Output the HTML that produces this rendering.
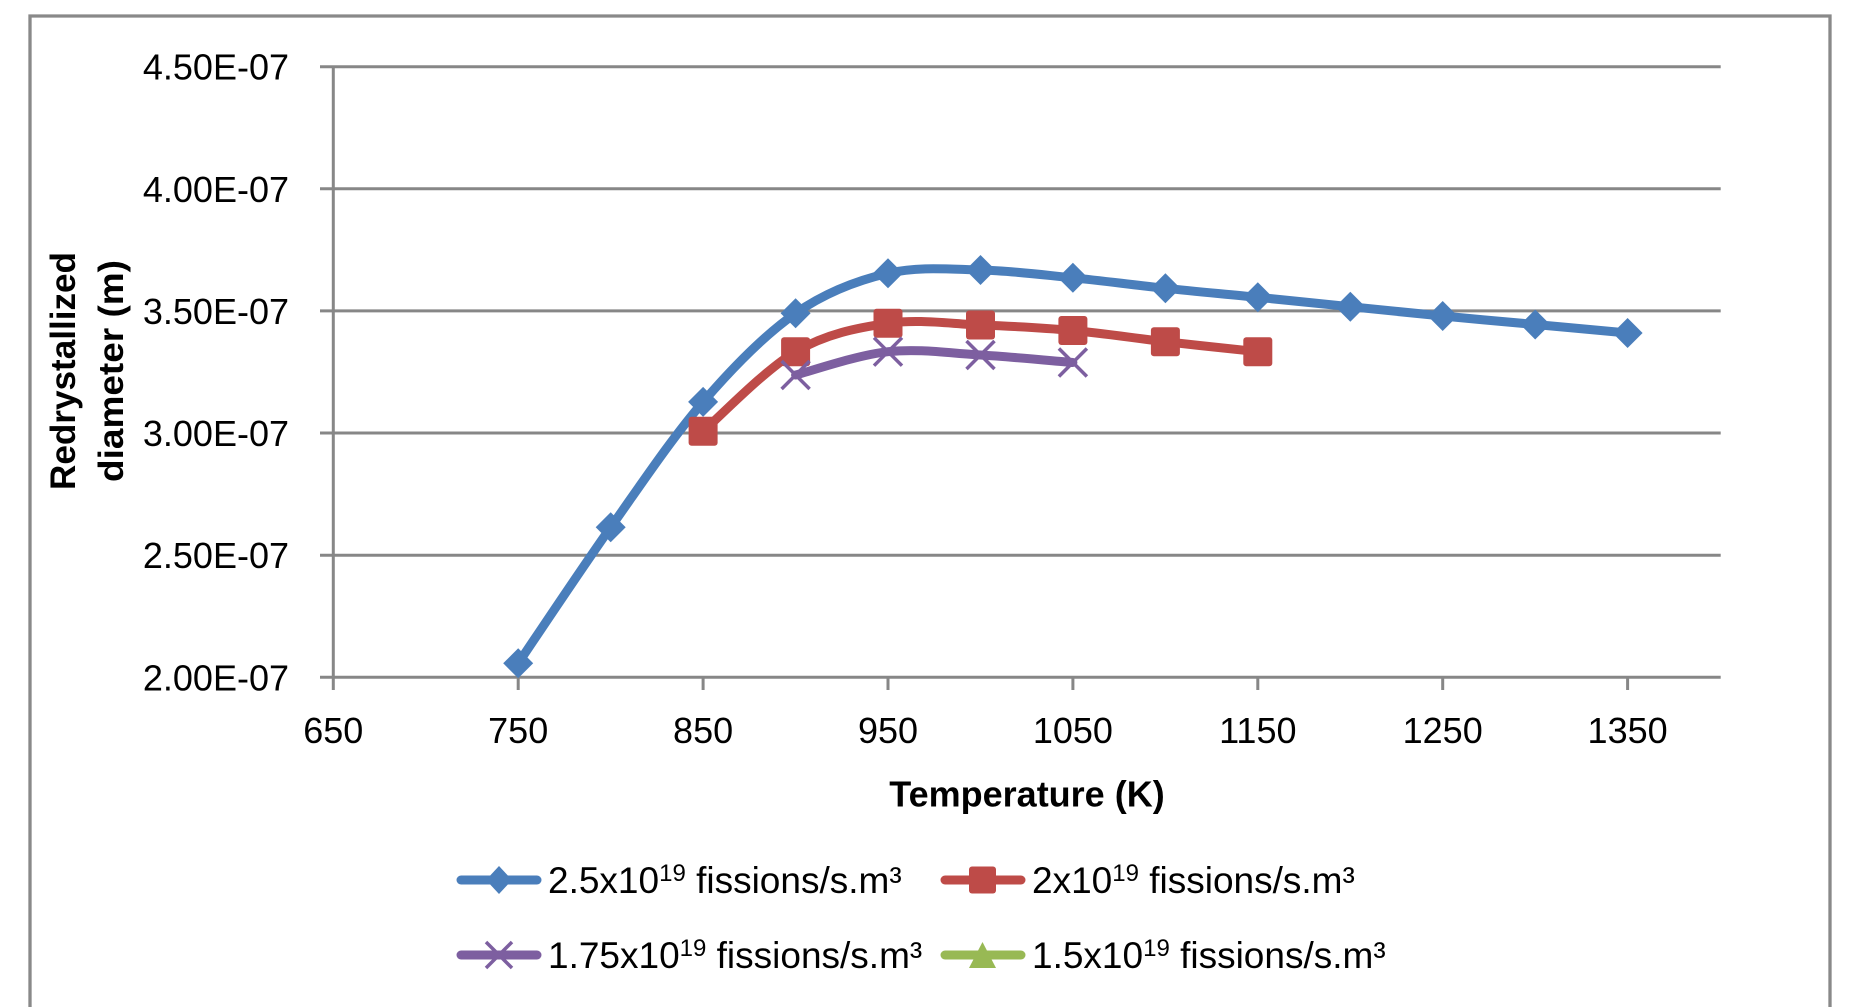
<!DOCTYPE html>
<html>
<head>
<meta charset="utf-8">
<style>
  html, body { margin: 0; padding: 0; background: #ffffff; }
  body { width: 1852px; height: 1007px; overflow: hidden; }
  svg { display: block; }
  text { font-family: "Liberation Sans", "DejaVu Sans", sans-serif; fill: #000; }
</style>
</head>
<body>
<svg width="1852" height="1007" viewBox="0 0 1852 1007" xmlns="http://www.w3.org/2000/svg">
  <rect x="0" y="0" width="1852" height="1007" fill="#ffffff"/>
  <!-- outer chart border (bottom edge is outside the frame) -->
  <path d="M30,1007 L30,16 L1830,16 L1830,1007" fill="none" stroke="#898989" stroke-width="3.3"/>

  <!-- gridlines -->
  <g stroke="#878787" stroke-width="3" fill="none">
    <line x1="320" y1="66.7" x2="1720.7" y2="66.7"/>
    <line x1="320" y1="188.8" x2="1720.7" y2="188.8"/>
    <line x1="320" y1="310.9" x2="1720.7" y2="310.9"/>
    <line x1="320" y1="433.0" x2="1720.7" y2="433.0"/>
    <line x1="320" y1="555.2" x2="1720.7" y2="555.2"/>
    <line x1="320" y1="677.3" x2="1720.7" y2="677.3"/>
    <!-- y axis -->
    <line x1="333.3" y1="66.7" x2="333.3" y2="690"/>
    <!-- x ticks -->
    <line x1="518.2" y1="677.3" x2="518.2" y2="690"/>
    <line x1="703.1" y1="677.3" x2="703.1" y2="690"/>
    <line x1="888.0" y1="677.3" x2="888.0" y2="690"/>
    <line x1="1072.9" y1="677.3" x2="1072.9" y2="690"/>
    <line x1="1257.8" y1="677.3" x2="1257.8" y2="690"/>
    <line x1="1442.7" y1="677.3" x2="1442.7" y2="690"/>
    <line x1="1627.6" y1="677.3" x2="1627.6" y2="690"/>
  </g>

  <!-- y tick labels -->
  <g font-size="36" text-anchor="end">
    <text x="289" y="79.7">4.50E-07</text>
    <text x="289" y="201.8">4.00E-07</text>
    <text x="289" y="323.9">3.50E-07</text>
    <text x="289" y="446.0">3.00E-07</text>
    <text x="289" y="568.2">2.50E-07</text>
    <text x="289" y="690.3">2.00E-07</text>
  </g>

  <!-- x tick labels -->
  <g font-size="36" text-anchor="middle">
    <text x="333.3" y="743">650</text>
    <text x="518.2" y="743">750</text>
    <text x="703.1" y="743">850</text>
    <text x="888.0" y="743">950</text>
    <text x="1072.9" y="743">1050</text>
    <text x="1257.8" y="743">1150</text>
    <text x="1442.7" y="743">1250</text>
    <text x="1627.6" y="743">1350</text>
  </g>

  <!-- axis titles -->
  <text x="1027" y="806.7" font-size="36" font-weight="bold" text-anchor="middle">Temperature (K)</text>
  <text transform="translate(75,371) rotate(-90)" font-size="35" font-weight="bold" text-anchor="middle" textLength="238" lengthAdjust="spacingAndGlyphs">Redrystallized</text>
  <text transform="translate(123,371) rotate(-90)" font-size="35" font-weight="bold" text-anchor="middle" textLength="222" lengthAdjust="spacingAndGlyphs">diameter (m)</text>

  <!-- Blue series -->
  <path d="M518.2,663.3 C533.6,640.6 579.9,570.9 610.7,527.3 C641.5,483.7 672.3,437.6 703.1,401.9 C733.9,366.2 764.8,334.7 795.6,313.3 C826.4,291.9 857.2,280.5 888.0,273.3 C918.8,266.1 949.7,269.3 980.5,270.0 C1011.3,270.8 1042.1,274.8 1072.9,277.8 C1103.7,280.9 1134.6,285.1 1165.4,288.3 C1196.2,291.6 1227.0,294.2 1257.8,297.3 C1288.6,300.4 1319.5,303.6 1350.3,306.7 C1381.1,309.8 1411.9,313.0 1442.7,316.0 C1473.5,319.0 1504.4,321.7 1535.2,324.5 C1566.0,327.3 1612.2,331.6 1627.6,333.0"
        fill="none" stroke="#4A7EBB" stroke-width="9" stroke-linecap="round" stroke-linejoin="round"/>
  <g fill="#4A7EBB">
    <polygon points="518.2,648.3 533.2,663.3 518.2,678.3 503.2,663.3"/>
    <polygon points="610.7,512.3 625.7,527.3 610.7,542.3 595.7,527.3"/>
    <polygon points="703.1,386.9 718.1,401.9 703.1,416.9 688.1,401.9"/>
    <polygon points="795.6,298.3 810.6,313.3 795.6,328.3 780.6,313.3"/>
    <polygon points="888.0,258.3 903.0,273.3 888.0,288.3 873.0,273.3"/>
    <polygon points="980.5,255.0 995.5,270.0 980.5,285.0 965.5,270.0"/>
    <polygon points="1072.9,262.8 1087.9,277.8 1072.9,292.8 1057.9,277.8"/>
    <polygon points="1165.4,273.3 1180.4,288.3 1165.4,303.3 1150.4,288.3"/>
    <polygon points="1257.8,282.3 1272.8,297.3 1257.8,312.3 1242.8,297.3"/>
    <polygon points="1350.3,291.7 1365.3,306.7 1350.3,321.7 1335.3,306.7"/>
    <polygon points="1442.7,301.0 1457.7,316.0 1442.7,331.0 1427.7,316.0"/>
    <polygon points="1535.2,309.5 1550.2,324.5 1535.2,339.5 1520.2,324.5"/>
    <polygon points="1627.6,318.0 1642.6,333.0 1627.6,348.0 1612.6,333.0"/>
  </g>

  <!-- Red series -->
  <path d="M703.1,431.3 C718.5,418.0 764.8,369.7 795.6,351.7 C826.4,333.7 857.2,327.8 888.0,323.3 C918.8,318.9 949.7,323.8 980.5,325.0 C1011.3,326.2 1042.1,327.7 1072.9,330.5 C1103.7,333.3 1134.6,338.2 1165.4,341.7 C1196.2,345.2 1242.4,350.0 1257.8,351.7"
        fill="none" stroke="#BE4B48" stroke-width="9" stroke-linecap="round" stroke-linejoin="round"/>
  <g fill="#BE4B48">
    <rect x="688.6" y="416.8" width="29" height="29" rx="3"/>
    <rect x="781.1" y="337.2" width="29" height="29" rx="3"/>
    <rect x="873.5" y="308.8" width="29" height="29" rx="3"/>
    <rect x="966.0" y="310.5" width="29" height="29" rx="3"/>
    <rect x="1058.4" y="316.0" width="29" height="29" rx="3"/>
    <rect x="1150.9" y="327.2" width="29" height="29" rx="3"/>
    <rect x="1243.3" y="337.2" width="29" height="29" rx="3"/>
  </g>

  <!-- Purple series -->
  <path d="M795.6,375.0 C811.0,371.1 857.2,355.0 888.0,351.7 C918.8,348.4 949.7,353.2 980.5,355.0 C1011.3,356.8 1057.5,361.3 1072.9,362.5"
        fill="none" stroke="#7D5FA0" stroke-width="9" stroke-linecap="round" stroke-linejoin="round"/>
  <g stroke="#7D5FA0" stroke-width="3.5" fill="none">
    <path d="M781.6,361 L809.6,389 M809.6,361 L781.6,389"/>
    <path d="M874.0,337.7 L902.0,365.7 M902.0,337.7 L874.0,365.7"/>
    <path d="M966.5,341 L994.5,369 M994.5,341 L966.5,369"/>
    <path d="M1058.9,348.5 L1086.9,376.5 M1086.9,348.5 L1058.9,376.5"/>
  </g>

  <!-- Legend -->
  <g stroke-width="9" stroke-linecap="round">
    <line x1="461" y1="880" x2="537" y2="880" stroke="#4A7EBB"/>
    <line x1="945" y1="880" x2="1021" y2="880" stroke="#BE4B48"/>
    <line x1="461" y1="955" x2="537" y2="955" stroke="#7D5FA0"/>
    <line x1="945" y1="955" x2="1021" y2="955" stroke="#98B954"/>
  </g>
  <polygon points="499,866 512,880 499,894 486,880" fill="#4A7EBB"/>
  <rect x="969" y="866.5" width="27" height="27" rx="3" fill="#BE4B48"/>
  <path d="M486,942 L512,968 M512,942 L486,968" stroke="#7D5FA0" stroke-width="3.5" fill="none"/>
  <polygon points="982.5,942 996,968 969,968" fill="#98B954"/>

  <g font-size="37">
    <text x="548" y="893">2.5x10<tspan font-size="24" dy="-12">19</tspan><tspan dy="12"> fissions/s.m³</tspan></text>
    <text x="1032" y="893">2x10<tspan font-size="24" dy="-12">19</tspan><tspan dy="12"> fissions/s.m³</tspan></text>
    <text x="548" y="968">1.75x10<tspan font-size="24" dy="-12">19</tspan><tspan dy="12"> fissions/s.m³</tspan></text>
    <text x="1032" y="968">1.5x10<tspan font-size="24" dy="-12">19</tspan><tspan dy="12"> fissions/s.m³</tspan></text>
  </g>
</svg>
</body>
</html>
